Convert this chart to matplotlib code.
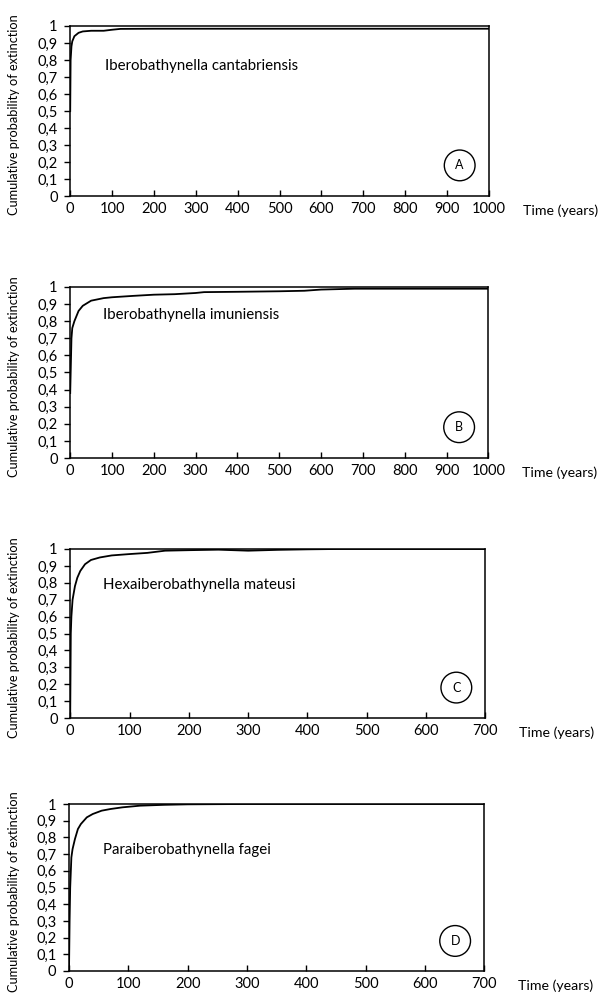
import matplotlib
matplotlib.use("Agg")
import matplotlib.pyplot as plt
from matplotlib.ticker import FuncFormatter

plt.rcParams['font.family'] = ['Lato', 'DejaVu Sans']

# panel A - Iberobathynella cantabriensis
a_t = [0, 1, 3, 5, 10, 20, 30, 50, 80, 100, 120, 200, 1000]
a_p = [0.5, 0.8, 0.88, 0.91, 0.94, 0.96, 0.968, 0.972, 0.972, 0.978, 0.983, 0.984, 0.984]

# panel B - Iberobathynella imuniensis
b_t = [0, 3, 5, 10, 20, 30, 50, 80, 100, 150, 200, 250, 300, 320, 400, 500, 560, 600, 680, 1000]
b_p = [0.38, 0.7, 0.76, 0.8, 0.86, 0.89, 0.92, 0.935, 0.94, 0.948, 0.955, 0.958, 0.965, 0.97,
       0.972, 0.975, 0.978, 0.985, 0.99, 0.99]

# panel C - Hexaiberobathynella mateusi
c_t = [0, 1, 2, 4, 8, 12, 17, 25, 35, 50, 70, 100, 130, 160, 200, 250, 300, 350, 400, 450, 700]
c_p = [0, 0.5, 0.6, 0.7, 0.78, 0.83, 0.87, 0.91, 0.935, 0.95, 0.962, 0.97, 0.977, 0.99, 0.993,
       0.996, 0.99, 0.995, 0.998, 1.0, 1.0]

# panel D - Paraiberobathynella fagei
d_t = [0, 1, 2, 4, 6, 10, 15, 20, 30, 40, 55, 70, 90, 120, 160, 200, 300, 700]
d_p = [0, 0.3, 0.5, 0.68, 0.73, 0.79, 0.85, 0.88, 0.92, 0.94, 0.96, 0.97, 0.98, 0.99, 0.995,
       0.998, 1.0, 1.0]

names = ["Iberobathynella cantabriensis", "Iberobathynella imuniensis",
         "Hexaiberobathynella mateusi", "Paraiberobathynella fagei"]
letters = ["A", "B", "C", "D"]
xmax = [1000, 1000, 700, 700]
series = [(a_t, a_p), (b_t, b_p), (c_t, c_p), (d_t, d_p)]

# axes boxes in figure fractions: left, bottom, width, height
boxes = [(0.117, 0.804, 0.698, 0.170),
         (0.117, 0.542, 0.697, 0.171),
         (0.117, 0.282, 0.692, 0.169),
         (0.115, 0.029, 0.692, 0.167)]
name_pos = [(0.083, 0.765), (0.079, 0.836), (0.079, 0.787), (0.083, 0.725)]

fig = plt.figure(figsize=(6, 10), dpi=100)

comma = FuncFormatter(lambda v, p: ("%g" % round(v, 1)).replace(".", ","))

for i in range(4):
    ax = fig.add_axes(boxes[i])
    t, p = series[i]
    ax.plot(t, p, color="black", lw=1.3)
    ax.set_xlim(0, xmax[i])
    ax.set_ylim(0, 1)
    ax.set_xticks(range(0, xmax[i] + 1, 100))
    ax.set_yticks([k / 10 for k in range(11)])
    ax.yaxis.set_major_formatter(comma)
    ax.tick_params(axis="y", direction="out", length=4, width=1, labelsize=10.5, pad=5)
    ax.tick_params(axis="x", direction="in", length=4, width=1, labelsize=10.5, pad=4)
    for s in ax.spines.values():
        s.set_linewidth(1.1)
    ax.text(1.081, -0.088, "Time (years)", transform=ax.transAxes, ha="left", va="center",
            fontsize=10.2)
    ax.text(name_pos[i][0], name_pos[i][1], names[i], transform=ax.transAxes,
            ha="left", va="center", fontsize=10.8)
    ax.text(0.93, 0.18, letters[i], transform=ax.transAxes, ha="center", va="center",
            fontsize=9, bbox=dict(boxstyle="circle,pad=0.75", fc="white", ec="black", lw=1))
    fig.text(0.023, boxes[i][1] + boxes[i][3] / 2 - 0.004, "Cumulative probability of extinction",
             rotation=90, ha="center", va="center", fontsize=9.2)

fig.savefig("out.png", dpi=100)
